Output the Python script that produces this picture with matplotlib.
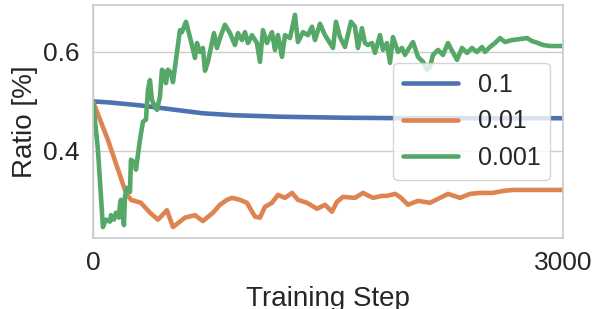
import numpy as np
import matplotlib
matplotlib.use("Agg")
import matplotlib.pyplot as plt
import seaborn as sns

# pixel columns -> steps (axis 0..3000 spans x=93..563)
def px_to_step(px):
    return [(p - 93) * 3000.0 / 470.0 for p in px]

# lr = 0.1
blue_steps = [0, 100, 200, 300, 400, 500, 600, 700, 800, 900, 1000, 1200, 1400, 1600, 2000, 2500, 3000]
blue_vals = [0.500, 0.498, 0.495, 0.492, 0.488, 0.484, 0.480, 0.476, 0.474, 0.472, 0.471,
             0.469, 0.468, 0.467, 0.466, 0.466, 0.466]

# lr = 0.01
orange_px = [93, 108, 126, 131, 141, 150, 158, 167, 173, 185, 195, 203, 207, 213, 220, 227, 232,
             240, 247, 255, 260, 265, 272, 278, 285, 292, 298, 307, 317, 325, 332, 337, 343,
             355, 363, 373, 382, 387, 395, 400, 408, 418, 430, 438, 448, 460, 470, 480, 493,
             503, 513, 540, 563]
orange_vals = [0.500, 0.422, 0.315, 0.301, 0.295, 0.275, 0.261, 0.280, 0.246, 0.265, 0.270, 0.258,
               0.265, 0.275, 0.291, 0.301, 0.305, 0.301, 0.295, 0.267, 0.265, 0.287, 0.295,
               0.311, 0.305, 0.315, 0.301, 0.295, 0.283, 0.291, 0.277, 0.297, 0.307, 0.305,
               0.315, 0.305, 0.309, 0.309, 0.313, 0.307, 0.291, 0.299, 0.295, 0.303, 0.313,
               0.305, 0.313, 0.315, 0.315, 0.319, 0.321, 0.321, 0.321]
orange_steps = px_to_step(orange_px)

# lr = 0.001
green_px = [93, 98, 103, 106, 110, 111, 114, 116, 119, 120, 121, 124, 125, 127, 130, 131, 135,
            136, 140, 143, 146, 148, 150, 152, 155, 157, 160, 162, 165, 166, 168, 171, 173,
            176, 180, 182, 186, 190, 195, 197, 200, 203, 205, 208, 214, 217, 220, 225, 230,
            235, 238, 242, 245, 248, 252, 257, 260, 263, 267, 272, 275, 278, 282, 285, 290,
            295, 298, 303, 308, 312, 315, 320, 325, 330, 333, 336, 340, 345, 351, 355, 358,
            362, 365, 368, 372, 375, 380, 383, 387, 390, 393, 398, 402, 405, 408, 413, 418,
            423, 427, 430, 433, 438, 443, 448, 450, 457, 462, 467, 472, 477, 482, 485, 490,
            495, 500, 505, 512, 520, 527, 532, 538, 543, 550, 563]
green_vals = [0.500, 0.402, 0.246, 0.261, 0.257, 0.270, 0.261, 0.275, 0.265, 0.291, 0.301, 0.250,
              0.307, 0.325, 0.317, 0.382, 0.376, 0.362, 0.422, 0.459, 0.463, 0.523, 0.543,
              0.503, 0.489, 0.483, 0.509, 0.564, 0.558, 0.537, 0.564, 0.558, 0.539, 0.584,
              0.644, 0.640, 0.661, 0.630, 0.588, 0.618, 0.600, 0.608, 0.562, 0.580, 0.638,
              0.608, 0.628, 0.655, 0.638, 0.614, 0.638, 0.624, 0.640, 0.618, 0.634, 0.618,
              0.580, 0.644, 0.618, 0.640, 0.604, 0.634, 0.590, 0.634, 0.628, 0.675, 0.620,
              0.640, 0.634, 0.651, 0.624, 0.657, 0.634, 0.618, 0.608, 0.661, 0.630, 0.610,
              0.661, 0.651, 0.608, 0.648, 0.618, 0.614, 0.618, 0.598, 0.634, 0.604, 0.618,
              0.578, 0.630, 0.600, 0.608, 0.594, 0.604, 0.620, 0.590, 0.580, 0.564, 0.570,
              0.594, 0.604, 0.594, 0.618, 0.610, 0.584, 0.608, 0.598, 0.608, 0.600, 0.610,
              0.600, 0.610, 0.618, 0.628, 0.620, 0.624, 0.626, 0.628, 0.622, 0.618, 0.614,
              0.612, 0.612]
green_steps = px_to_step(green_px)

labels = ["0.1", "0.01", "0.001"]

sns.set_theme(style="whitegrid")
plt.rcParams['font.family'] = ['Liberation Sans', 'DejaVu Sans']

fig, ax = plt.subplots(figsize=(5.92, 3.09), dpi=100)
pal = sns.color_palette()
ax.plot(blue_steps, blue_vals, color=pal[0], lw=3.3, label=labels[0])
ax.plot(orange_steps, orange_vals, color=pal[1], lw=3.3, label=labels[1])
ax.plot(green_steps, green_vals, color=pal[2], lw=3.3, label=labels[2])

ax.set_xlim(0, 3000)
ax.set_ylim(0.224, 0.695)
ax.set_xticks([0, 3000])
ax.set_yticks([0.4, 0.6])
ax.tick_params(labelsize=19, colors='#262626')
ax.set_xlabel("Training Step", fontsize=20, labelpad=8)
ax.set_ylabel("Ratio [%]", fontsize=20)
ax.legend(loc='center right', fontsize=18, handlelength=2.2)

fig.subplots_adjust(left=0.157, right=0.951, bottom=0.23, top=0.984)
fig.savefig("out.png", dpi=100)
